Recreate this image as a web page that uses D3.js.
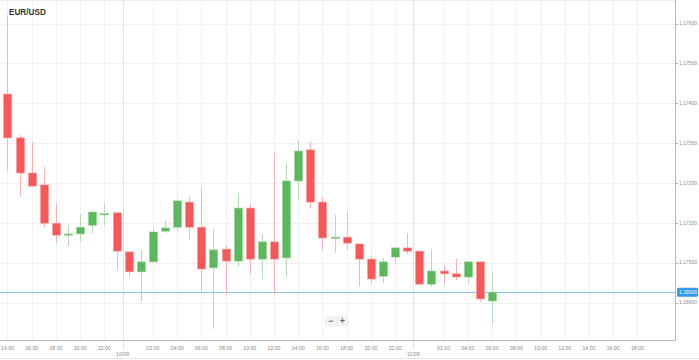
<!DOCTYPE html>
<html>
<head>
<meta charset="utf-8">
<script src="https://cdn.jsdelivr.net/npm/d3@7"></script>
<style>
  html, body { margin: 0; padding: 0; background: #fff; }
  svg { display: block; font-family: "Liberation Sans", Arial, sans-serif; }
</style>
</head>
<body>
<svg id="chart" width="699" height="360"></svg>
<script>
// ---- Data (hourly candles, EUR/USD) ----
const startTime = "2025-09-09T14:00:00Z";
const opens  = [1.17423,1.17313,1.17225,1.17195,1.17099,1.17069,1.17072,1.17094,1.17120,1.17125,
                1.17027,1.16977,1.17002,1.17079,1.17089,1.17152,1.17089,1.16987,1.17034,1.17004,
                1.17137,1.17009,1.17052,1.17012,1.17205,1.17283,1.17152,1.17062,1.17064,1.17047,
                1.17009,1.16966,1.17014,1.17037,1.17029,1.16946,1.16979,1.16972,1.16964,1.17002,
                1.16904];
const highs  = [1.17621,1.17320,1.17303,1.17240,1.17150,1.17094,1.17122,1.17130,1.17150,1.17125,
                1.17027,1.17032,1.17087,1.17107,1.17160,1.17165,1.17190,1.17084,1.17042,1.17175,
                1.17150,1.17072,1.17275,1.17250,1.17308,1.17303,1.17165,1.17120,1.17127,1.17047,
                1.17019,1.17012,1.17039,1.17074,1.17029,1.17034,1.16994,1.17009,1.17002,1.17002,
                1.16974];
const lows   = [1.17232,1.17165,1.17192,1.17089,1.17049,1.17042,1.17052,1.17074,1.17094,1.16982,
                1.16966,1.16901,1.17002,1.17074,1.17079,1.17059,1.16924,1.16834,1.16919,1.16989,
                1.16972,1.16959,1.16921,1.16966,1.17155,1.17137,1.17032,1.17024,1.17032,1.16941,
                1.16949,1.16949,1.16997,1.17022,1.16944,1.16939,1.16946,1.16956,1.16949,1.16901,
                1.16846];
const closes = [1.17313,1.17225,1.17192,1.17099,1.17069,1.17072,1.17089,1.17127,1.17123,1.17029,
                1.16977,1.17002,1.17077,1.17087,1.17155,1.17089,1.16984,1.17032,1.17004,1.17137,
                1.17009,1.17052,1.17009,1.17205,1.17280,1.17152,1.17062,1.17064,1.17049,1.17009,
                1.16959,1.17002,1.17037,1.17029,1.16946,1.16979,1.16972,1.16964,1.17002,1.16909,
                1.16926];
const priceTicks = [1.16900,1.17000,1.17100,1.17200,1.17300,1.17400,1.17500,1.17600];
const dayMarks = ["2025-09-09T23:30:00Z", "2025-09-10T23:30:00Z"];
const dayLabels = ["10/09", "11/09"];
const currentPriceLabel = "1.16926";
const title = "EUR/USD";

// ---- Layout ----
const W = 699, H = 360;
const plotL = 0, plotR = 675, plotT = 0, plotB = 340;
const svg = d3.select("#chart");

const t0 = new Date(startTime);
const candles = opens.map((o, i) => ({
  t: new Date(t0.getTime() + i * 3600e3),
  o, h: highs[i], l: lows[i], c: closes[i]
}));

const x = d3.scaleUtc()
  .domain([new Date("2025-09-09T13:23:00Z"), new Date("2025-09-11T21:06:00Z")])
  .range([plotL, plotR]);
const y = d3.scaleLinear()
  .domain([1.16806, 1.17659])
  .range([plotB, plotT]);

// top border
svg.append("line").attr("x1", 0).attr("x2", plotR).attr("y1", 0.5).attr("y2", 0.5)
  .attr("stroke", "#ececec");

// horizontal grid
svg.append("g").selectAll("line").data(priceTicks).join("line")
  .attr("x1", plotL).attr("x2", plotR)
  .attr("y1", d => Math.round(y(d)) + 0.5).attr("y2", d => Math.round(y(d)) + 0.5)
  .attr("stroke", "#f1f1f1");

// time ticks every 2h, skipping midnight and those too close to the right edge
const timeTicks = x.ticks(d3.utcHour.every(2))
  .filter(d => d.getUTCHours() !== 0 && x(d) < plotR - 25);
svg.append("g").selectAll("line").data(timeTicks).join("line")
  .attr("x1", d => Math.round(x(d)) + 0.5).attr("x2", d => Math.round(x(d)) + 0.5)
  .attr("y1", plotT).attr("y2", plotB)
  .attr("stroke", "#f1f1f1");

// day separators
const dayDates = dayMarks.map(d => new Date(d));
svg.append("g").selectAll("line").data(dayDates).join("line")
  .attr("x1", d => Math.round(x(d)) + 0.5).attr("x2", d => Math.round(x(d)) + 0.5)
  .attr("y1", plotT).attr("y2", plotB)
  .attr("stroke", "#e2e2e2");
svg.append("g").selectAll("line").data(dayDates).join("line")
  .attr("x1", d => Math.round(x(d)) + 0.5).attr("x2", d => Math.round(x(d)) + 0.5)
  .attr("y1", plotB).attr("y2", plotB + 10)
  .attr("stroke", "#cccccc").attr("stroke-dasharray", "1,1");

// bottom axis labels
const fmt = d3.utcFormat("%H:%M");
svg.append("g").selectAll("text").data(timeTicks).join("text")
  .attr("x", d => x(d)).attr("y", 350)
  .attr("text-anchor", "middle")
  .attr("font-size", 5.2).attr("fill", "#8a8a8a")
  .text(d => fmt(d));
svg.append("g").selectAll("text").data(dayDates).join("text")
  .attr("x", d => x(d)).attr("y", 355.5)
  .attr("text-anchor", "middle")
  .attr("font-size", 5.2).attr("fill", "#8a8a8a")
  .text((d, i) => dayLabels[i]);

// price line
const last = candles[candles.length - 1];
svg.append("line")
  .attr("x1", plotL).attr("x2", plotR)
  .attr("y1", Math.round(y(last.c)) + 0.5).attr("y2", Math.round(y(last.c)) + 0.5)
  .attr("stroke", "#86c0f0").attr("stroke-width", 1);

// candles
const bw = 8;
const up = "#5cb85c", down = "#f75757";
const upWick = "#b6deb6", downWick = "#f8b4b4";
const g = svg.append("g");
g.selectAll("line.wick").data(candles).join("line")
  .attr("class", "wick")
  .attr("x1", d => Math.round(x(d.t)) + 0.5).attr("x2", d => Math.round(x(d.t)) + 0.5)
  .attr("y1", d => y(d.h)).attr("y2", d => y(d.l))
  .attr("stroke", d => d.c >= d.o ? upWick : downWick).attr("stroke-width", 1);
g.selectAll("rect.body").data(candles).join("rect")
  .attr("class", "body")
  .attr("x", d => Math.round(x(d.t)) - bw / 2 + 0.5)
  .attr("width", bw)
  .attr("y", d => y(Math.max(d.o, d.c)))
  .attr("height", d => Math.max(1.2, Math.abs(y(d.o) - y(d.c))))
  .attr("fill", d => d.c >= d.o ? up : down)
  .attr("stroke", d => d.c >= d.o ? "#8fd08f" : "#fa9a9a")
  .attr("stroke-width", 0.6);

// axes lines
svg.append("line").attr("x1", plotR + 0.5).attr("x2", plotR + 0.5)
  .attr("y1", 0).attr("y2", plotB + 0.5).attr("stroke", "#b5b5b5");
svg.append("line").attr("x1", 0).attr("x2", plotR + 0.5)
  .attr("y1", plotB + 0.5).attr("y2", plotB + 0.5).attr("stroke", "#b5b5b5");
svg.append("line").attr("x1", 0).attr("x2", W)
  .attr("y1", 358.5).attr("y2", 358.5).attr("stroke", "#e6e6e6");

// right axis ticks and labels
svg.append("g").selectAll("line").data(priceTicks).join("line")
  .attr("x1", plotR).attr("x2", plotR + 3)
  .attr("y1", d => Math.round(y(d)) + 0.5).attr("y2", d => Math.round(y(d)) + 0.5)
  .attr("stroke", "#b5b5b5");
svg.append("g").selectAll("text").data(priceTicks).join("text")
  .attr("x", plotR + 4).attr("y", d => y(d) + 1.8)
  .attr("font-size", 5).attr("fill", "#8a8a8a")
  .text(d => d3.format(".5f")(d));

// current price label
const py = y(last.c);
svg.append("rect").attr("x", plotR + 2).attr("y", py - 4.5).attr("width", 21).attr("height", 9)
  .attr("rx", 1.5).attr("fill", "#3398ea");
svg.append("text").attr("x", plotR + 4).attr("y", py + 1.8)
  .attr("font-size", 5).attr("fill", "#fff").text(currentPriceLabel);

// title
svg.append("text").attr("x", 9).attr("y", 15)
  .attr("font-size", 8.2).attr("font-weight", "bold").attr("fill", "#333")
  .text(title);

// zoom buttons
const zb = svg.append("g").attr("transform", "translate(325,317)");
zb.append("rect").attr("width", 23).attr("height", 9).attr("rx", 1.5)
  .attr("fill", "#f4f4f4").attr("stroke", "#e0e0e0").attr("stroke-width", 0.6);
zb.append("line").attr("x1", 11.5).attr("x2", 11.5).attr("y1", 1).attr("y2", 8)
  .attr("stroke", "#e0e0e0").attr("stroke-width", 0.6);
zb.append("text").attr("x", 6).attr("y", 7).attr("text-anchor", "middle")
  .attr("font-size", 9).attr("font-weight", "bold").attr("fill", "#666").text("−");
zb.append("text").attr("x", 17.5).attr("y", 7.3).attr("text-anchor", "middle")
  .attr("font-size", 9).attr("font-weight", "bold").attr("fill", "#666").text("+");
</script>
</body>
</html>
